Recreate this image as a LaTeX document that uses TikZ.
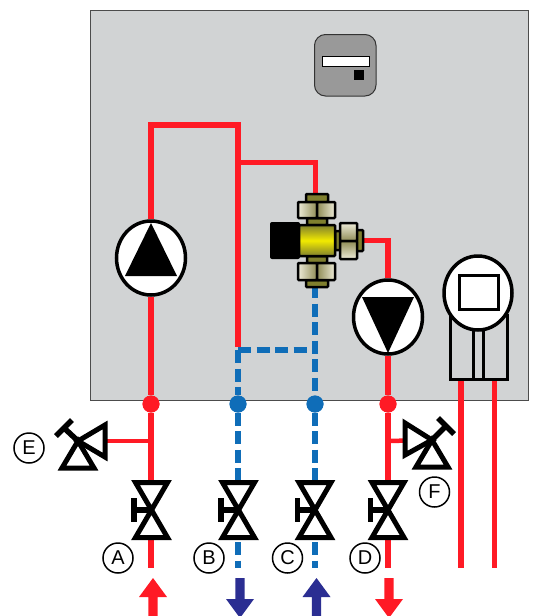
\documentclass[tikz,border=0pt]{standalone}
\usepackage{fontspec}
\setsansfont{Liberation Sans}
\usetikzlibrary{shapes.geometric,positioning}

\definecolor{panelgray}{HTML}{D1D3D4}
\definecolor{pipered}{HTML}{FF1A25}
\definecolor{pipeblue}{HTML}{0F6DB8}
\definecolor{arrowblue}{HTML}{2B2E92}
\definecolor{brassdark}{HTML}{7F7F2E}
\definecolor{brasslight}{HTML}{EDEBD8}
\definecolor{brassmid}{HTML}{8F8C55}
\definecolor{brassyellow}{HTML}{F2EA00}

\tikzset{
    pipe/.style={line width=5.5pt,pipered},
    coldpipe/.style={line width=5.5pt,pipeblue,dash pattern=on 13pt off 5.5pt},
    pump/.style={ellipse,draw=black,fill=white,line width=3.5pt,minimum width=69pt,minimum height=74pt,inner sep=0pt},
    junction/.style={circle,inner sep=0pt,minimum size=17pt},
    tag/.style={circle,draw=black,fill=white,line width=1.5pt,minimum size=30pt,inner sep=0pt,
        font=\sffamily\fontsize{20}{20}\selectfont},
    part/.style={draw=black,line width=2.5pt,rounded corners=0.8pt},
    wing/.style={draw=black,fill=white,line width=5pt,miter limit=10},
    valve/.pic={
        \draw[wing] (0,0) -- (-16,-27.5) -- (16,-27.5) -- cycle;
        \draw[wing] (0,0) -- (-16,27.5) -- (16,27.5) -- cycle;
        \draw[line width=5.5pt] (-17.5,0) -- (0,0);
        \draw[line width=5.5pt] (-17.5,-12) -- (-17.5,12);
    },
}
\newcommand{\flowarrow}[4]{%
    \fill[#1] (#2-4.7,#3) -- (#2+4.7,#3) -- (#2+4.7,#3+#4*21) -- (#2+14,#3+#4*21)
        -- (#2,#3+#4*40) -- (#2-14,#3+#4*21) -- (#2-4.7,#3+#4*21) -- cycle;
}

\begin{document}
\begin{tikzpicture}[x=1pt,y=-1pt]
\useasboundingbox (0,0) rectangle (533,616);

% Panel and display
\draw[fill=panelgray,draw=black!70,line width=1pt] (90.5,10) rectangle (528,400.5);
\draw[fill=black!40,draw=black!80,line width=1pt,rounded corners=11pt] (314.5,34.5) rectangle (376,96);
\draw[fill=white,draw=black,line width=1pt] (322.5,56) rectangle (369.5,66);
\fill[black] (354,70) rectangle (364,80);

% Places
\node[pump] (pumpup) at (151,258) {};
\node[pump] (pumpdown) at (388,317) {};
\node[junction,fill=pipered] (hotA) at (151,404) {};
\node[junction,fill=pipeblue] (coldB) at (238,404) {};
\node[junction,fill=pipeblue] (coldC) at (315,404) {};
\node[junction,fill=pipered] (hotD) at (388,404) {};
\coordinate (valveA) at (151.5,510);
\coordinate (valveB) at (238.5,510);
\coordinate (valveC) at (315,510);
\coordinate (valveD) at (388,510);
\coordinate (valveE) at (78,441);
\coordinate (valveF) at (432,440);

% Pipes
\draw[pipe] (pumpup.north) -- (151,125) -- (238,125) -- (238,347);
\draw[pipe] (238,162.5) -- (315.5,162.5) -- (315.5,200);
\draw[pipe] (pumpup.south) -- (hotA) -- (151,568);
\draw[pipe] (350,240.5) -- (388,240.5) -- (pumpdown.north);
\draw[pipe] (pumpdown.south) -- (hotD) -- (388,568);
\draw[pipe,line width=4.5pt] (valveE) -- (151,441);
\draw[pipe,line width=4.5pt] (388,441) -- (valveF);
\draw[coldpipe] (238,350) -- (coldB) -- (238,568);
\draw[coldpipe] (315,285) -- (coldC) -- (315,568);
\draw[coldpipe] (238,350) -- (315,350);
\node[junction,fill=pipered] at (hotA) {};
\node[junction,fill=pipeblue] at (coldB) {};
\node[junction,fill=pipeblue] at (coldC) {};
\node[junction,fill=pipered] at (hotD) {};

% Pump triangles
\fill[black] (151,223) -- (125,276) -- (177,276) -- cycle;
\fill[black] (388,353) -- (362,297) -- (414,297) -- cycle;

% Unit on the right
\draw[pipe] (461,379) -- (461,568);
\draw[pipe] (494.5,379) -- (494.5,568);
\draw[black,fill=panelgray,line width=3pt] (450,315) rectangle (507,379);
\draw[black,line width=3pt] (473,315) -- (473,379) (483,315) -- (483,379);
\node[pump,minimum width=68pt] (meter) at (478,293) {};
\draw[black,fill=white,line width=3pt] (459,275) rectangle (498,309);

% Mixing valve
\fill[black,rounded corners=2pt] (270,222) rectangle (300,259);
\draw[part,fill=brassdark] (306,194) rectangle (328,202);
\draw[part,fill=brassdark] (307,218) rectangle (327,225);
\draw[part,fill=brassdark] (307,256) rectangle (327,263);
\draw[part,fill=brassdark] (306,280) rectangle (328,287);
\draw[part,fill=brassdark] (335,231) rectangle (341,250);
\draw[part,fill=brassdark] (356,230) rectangle (363,251);
\draw[part,left color=brasslight,right color=brassmid] (298,202) rectangle (317,218);
\draw[part,left color=brassmid,right color=brasslight] (317,202) rectangle (335,218);
\draw[part,left color=brasslight,right color=brassmid] (298,263) rectangle (317,280);
\draw[part,left color=brassmid,right color=brasslight] (317,263) rectangle (335,280);
\draw[part,top color=brasslight,bottom color=brassmid] (340,223) rectangle (357,241);
\draw[part,top color=brassmid,bottom color=brasslight] (340,241) rectangle (357,259);
\draw[part,top color=brassdark,bottom color=brassdark,middle color=brassyellow] (299,225) rectangle (335,256);

% Valves
\pic at (valveA) {valve};
\pic at (valveB) {valve};
\pic at (valveC) {valve};
\pic at (valveD) {valve};
\draw[wing] (valveE) -- ++(-16,27) -- ++(32,0) -- cycle;
\draw[wing] (valveE) -- ++(27,-16) -- ++(0,32) -- cycle;
\draw[line width=5.5pt] (valveE) -- (63,427);
\draw[line width=5.5pt] (56,436) -- (72,420);
\draw[wing] (valveF) -- ++(-16,27) -- ++(32,0) -- cycle;
\draw[wing] (valveF) -- ++(-27,-17) -- ++(0,32) -- cycle;
\draw[line width=5.5pt] (valveF) -- (446,426);
\draw[line width=5.5pt] (438,418) -- (454,434);

% Labels
\node[tag] (tagA) at (118,558) {A};
\node[tag] (tagB) at (209,558) {B};
\node[tag] (tagC) at (287.5,558) {C};
\node[tag] (tagD) at (365,558) {D};
\node[tag] (tagE) at (29,448) {E};
\node[tag] (tagF) at (434.5,492) {F};

% Flow arrows
\flowarrow{pipered}{153}{618}{-1}
\flowarrow{arrowblue}{240}{578}{1}
\flowarrow{arrowblue}{316.5}{618}{-1}
\flowarrow{pipered}{389}{578}{1}

\end{tikzpicture}
\end{document}
